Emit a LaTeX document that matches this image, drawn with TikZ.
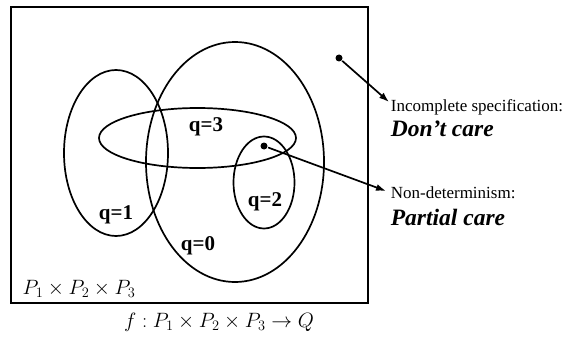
\documentclass[tikz,border=0pt]{standalone}
\usepackage{fontspec}
\setmainfont{Liberation Serif}
\usetikzlibrary{arrows.meta}
\begin{document}
\begin{tikzpicture}[x=1pt,y=-1pt, line width=1.7pt,
  qlab/.style={font=\fontsize{21}{22}\selectfont\bfseries, inner sep=0},
  note/.style={font=\fontsize{17}{18}\selectfont, inner sep=0, anchor=west},
  care/.style={font=\fontsize{23.5}{24}\selectfont\bfseries\itshape, inner sep=0, anchor=west},
  mathlab/.style={font=\fontsize{21}{22}\selectfont, inner sep=0},
  dotnode/.style={circle, fill, inner sep=0, minimum size=7pt},
  pointer/.style={-{Latex[length=10pt,width=7pt]}, line width=1.7pt}]
\useasboundingbox (0,0) rectangle (573,337);
\draw[line width=2.2pt] (11,7) rectangle (368,303);
% sets
\draw (116,153) ellipse [x radius=52pt, y radius=83pt];
\draw (235,162) ellipse [x radius=89pt, y radius=120pt];
\draw (197.5,138) ellipse [x radius=98.5pt, y radius=30pt];
\draw (264,182.5) ellipse [x radius=30.5pt, y radius=46pt];
% labels
\node[qlab] (q3) at (206,127) {q=3};
\node[qlab] (q2) at (265,202) {q=2};
\node[qlab] (q1) at (116,215) {q=1};
\node[qlab] (q0) at (198,246) {q=0};
\node[mathlab] (prod) at (79,289) {$P_1\times P_2\times P_3$};
\node[mathlab] (func) at (219,322) {$f: P_1\times P_2\times P_3\rightarrow Q$};
% notes
\node[note] (inc) at (390,107) {Incomplete specification:};
\node[care] (dc) at (390,129) {Don't care};
\node[note] (nd) at (390,193) {Non-determinism:};
\node[care] (pc) at (390,217) {Partial care};
% pointers
\node[dotnode] (d1) at (339,58) {};
\node[dotnode] (d2) at (264,146) {};
\coordinate (e1) at (389,102);
\coordinate (e2) at (386,191);
\draw[pointer] (d1) -- (e1);
\draw[pointer] (d2) -- (e2);
\end{tikzpicture}
\end{document}
